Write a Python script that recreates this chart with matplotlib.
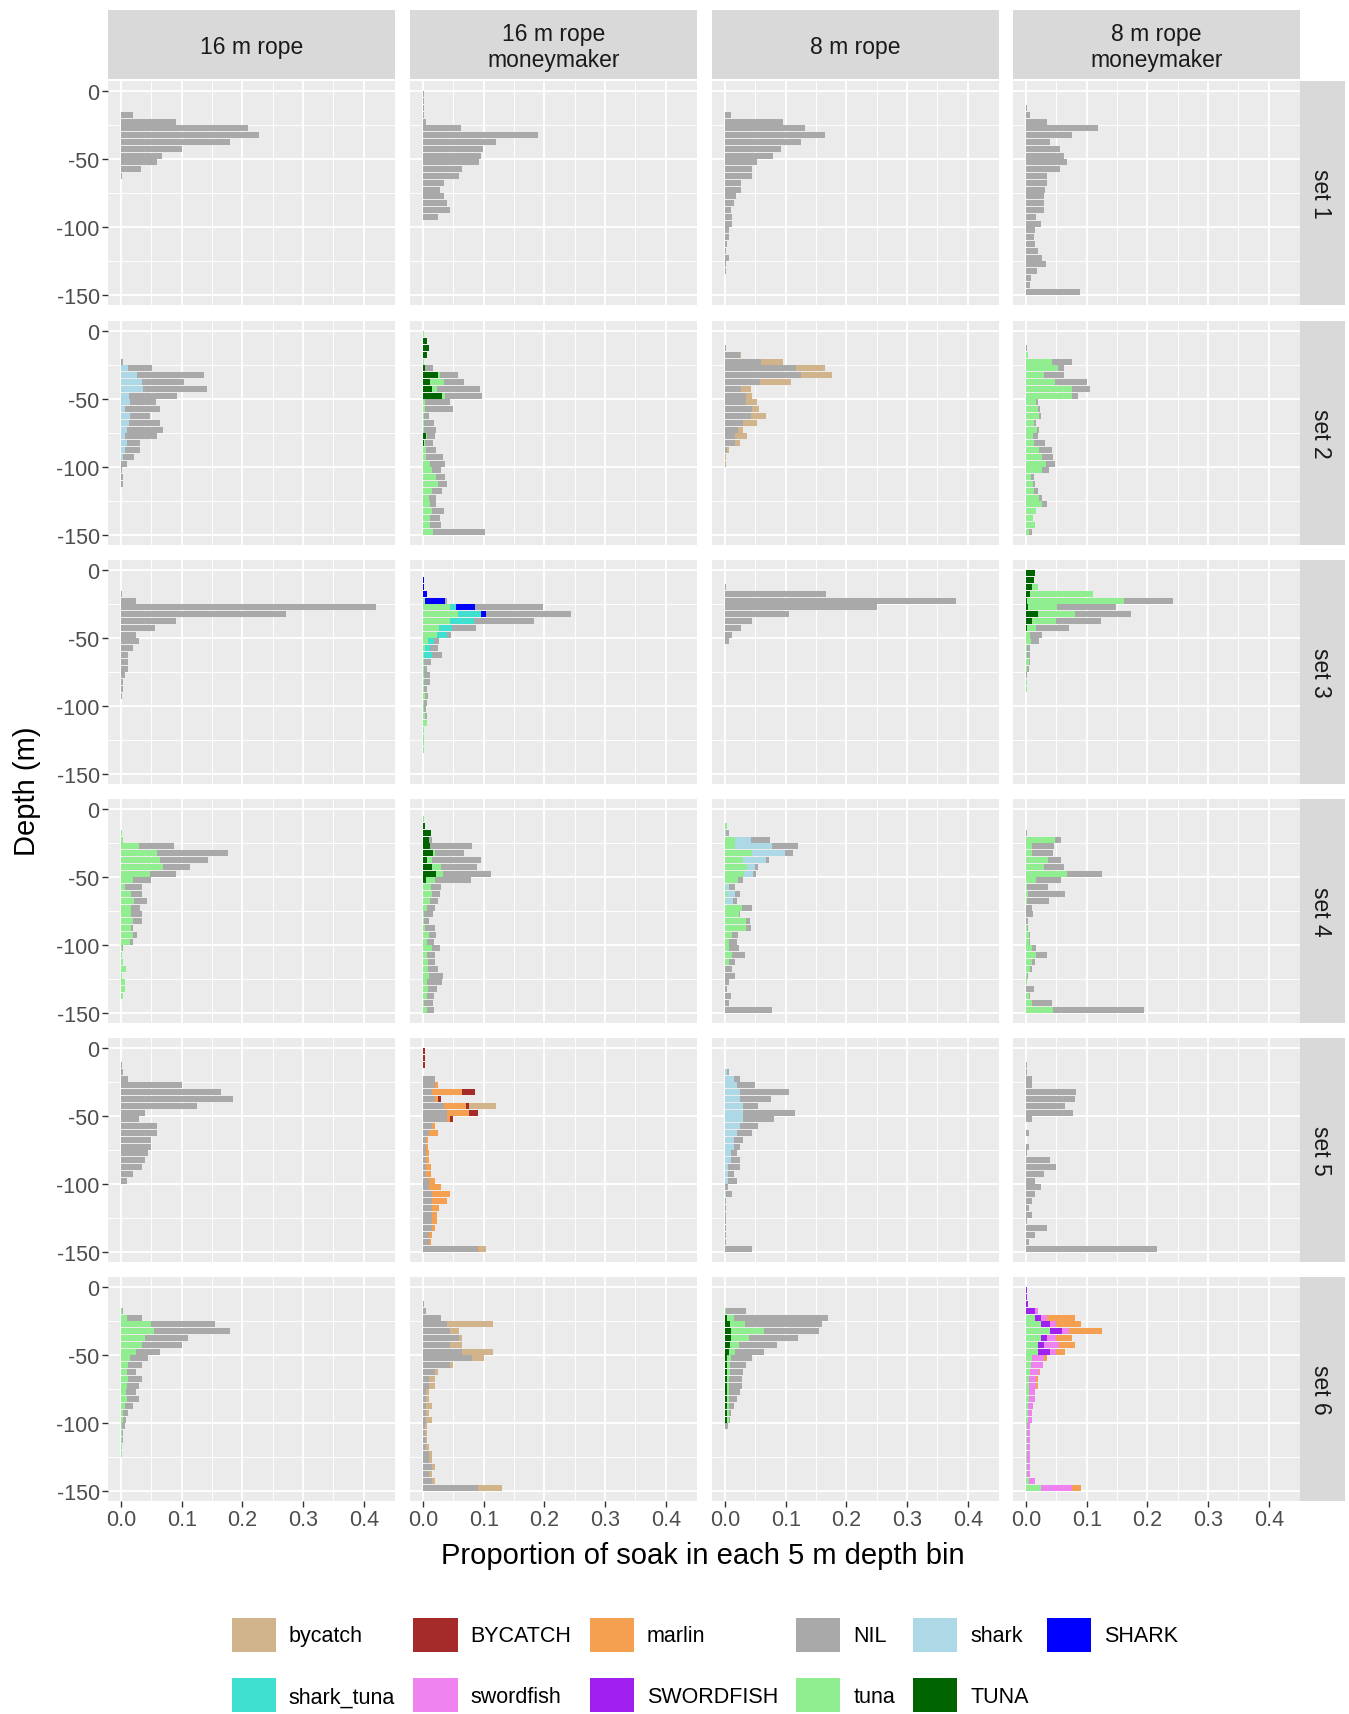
import matplotlib
matplotlib.use('Agg')
import matplotlib.pyplot as plt
from matplotlib.patches import Patch
import numpy as np

plt.rcParams['font.family'] = ['Liberation Sans', 'DejaVu Sans']
plt.rcParams['axes.unicode_minus'] = False

# ---------------- categories / labels ----------------
categories = ['bycatch', 'BYCATCH', 'marlin', 'NIL', 'shark', 'SHARK',
              'shark_tuna', 'swordfish', 'SWORDFISH', 'tuna', 'TUNA']
cat_colors = ['#D2B48C', '#A52A2A', '#F4A050', '#A9A9A9', '#ADD8E6', '#0000FF',
              '#40E0D0', '#EE82EE', '#A020F0', '#90EE90', '#006400']
ropes = ['16 m rope', '16 m rope\nmoneymaker', '8 m rope', '8 m rope\nmoneymaker']
sets = ['set 1', 'set 2', 'set 3', 'set 4', 'set 5', 'set 6']
depth_bins = [-2.5, -7.5, -12.5, -17.5, -22.5, -27.5, -32.5, -37.5, -42.5, -47.5,
              -52.5, -57.5, -62.5, -67.5, -72.5, -77.5, -82.5, -87.5, -92.5, -97.5,
              -102.5, -107.5, -112.5, -117.5, -122.5, -127.5, -132.5, -137.5, -142.5, -147.5]
x_ticks = [0.0, 0.1, 0.2, 0.3, 0.4]
y_ticks = [0, -50, -100, -150]

# ---------------- data: proportion per 5 m bin (30 bins) ----------------
# set 1
s1_c1_NIL = [0, 0, 0, .020, .091, .209, .227, .180, .101, .067, .060, .033, .001, 0, 0,
             0, 0, 0, 0, 0, 0, 0, 0, 0, 0, 0, 0, 0, 0, 0]
s1_c2_NIL = [.001, .001, .001, .001, .005, .063, .189, .121, .099, .095, .092, .064, .059, .035, .028,
             .034, .040, .045, .025, 0, 0, 0, 0, 0, 0, 0, 0, 0, 0, 0]
s1_c3_NIL = [0, 0, 0, .010, .096, .132, .165, .125, .092, .079, .053, .045, .045, .027, .026,
             .018, .014, .010, .012, .012, .006, .006, .004, .002, .007, .002, .002, 0, 0, 0]
s1_c4_NIL = [0, 0, .001, .006, .034, .118, .075, .039, .056, .062, .068, .056, .035, .035, .032,
             .029, .030, .029, .017, .024, .015, .013, .015, .019, .027, .033, .018, .008, .006, .089]
# set 2
s2_c1_shark = [0, 0, 0, 0, 0, .012, .026, .034, .036, .013, .015, .007, .014, .013, .009,
               .007, .010, .007, .003, 0, 0, 0, 0, 0, 0, 0, 0, 0, 0, 0]
s2_c1_NIL = [0, 0, 0, 0, .003, .039, .110, .069, .106, .080, .043, .057, .034, .051, .060,
             .052, .022, .024, .019, .009, .001, .004, .003, 0, 0, 0, 0, 0, 0, 0]
s2_c2_TUNA = [0, .007, .009, .007, 0, .003, .025, .011, .014, .031, 0, 0, 0, 0, 0,
              .005, .002, 0, 0, 0, 0, 0, 0, 0, 0, 0, 0, 0, 0, 0]
s2_c2_tuna = [.002, 0, 0, 0, .002, 0, .003, .024, .009, .005, .003, .003, .002, .002, .002,
              .002, .001, .005, .005, .011, .015, .022, .024, .014, .009, .011, .014, .012, .011, .017]
s2_c2_NIL = [0, 0, 0, 0, 0, .013, .029, .033, .071, .061, .042, .046, .008, .016, .019,
             .012, .013, .017, .028, .025, .015, .015, .015, .018, .012, .011, .020, .016, .019, .085]
s2_c3_NIL = [0, 0, .002, .025, .060, .117, .126, .058, .027, .035, .035, .044, .042, .030, .022,
             .016, .016, .004, 0, 0, 0, 0, 0, 0, 0, 0, 0, 0, 0, 0]
s2_c3_bycatch = [0, 0, 0, .001, .035, .048, .050, .051, .015, .009, .017, .012, .025, .022, .008,
                 .020, .009, .003, .002, .002, 0, 0, 0, 0, 0, 0, 0, 0, 0, 0]
s2_c4_tuna = [0, 0, 0, .004, .042, .053, .029, .047, .076, .076, .016, .019, .022, .013, .018,
              .012, .013, .022, .027, .033, .026, .008, .011, .013, .022, .027, .017, .012, .014, .005]
s2_c4_NIL = [0, 0, .001, 0, .033, .009, .033, .053, .030, .009, .004, .004, .002, .004, .004,
             .007, .018, .020, .018, .014, .012, .005, .004, .007, .005, .007, 0, 0, 0, .004]
# set 3
s3_c1_NIL = [0, 0, 0, .001, .024, .420, .272, .090, .056, .024, .029, .019, .012, .011, .012,
             .006, .004, .004, .001, 0, 0, 0, 0, 0, 0, 0, 0, 0, 0, 0]
s3_c2_SHARK = [0, .002, .002, .006, .033, .031, .008, 0, 0, 0, 0, 0, 0, 0, 0,
               0, 0, 0, 0, 0, 0, 0, 0, 0, 0, 0, 0, 0, 0, 0]
s3_c2_tuna = [0, 0, 0, 0, .003, .044, .058, .044, .026, .023, .008, .004, .002, .002, .001,
              .001, .002, .002, .003, .002, .002, .004, .006, .002, .002, .002, .002, 0, 0, 0]
s3_c2_shark_tuna = [0, 0, 0, 0, 0, .010, .038, .040, .022, .016, .010, .008, .013, 0, 0,
                    0, 0, 0, 0, 0, 0, 0, 0, 0, 0, 0, 0, 0, 0, 0]
s3_c2_NIL = [0, 0, 0, 0, .004, .112, .140, .099, .040, .007, .009, .013, .017, .011, .006,
             .011, .009, .005, .005, .005, .003, .002, 0, 0, 0, 0, 0, 0, 0, 0]
s3_c3_NIL = [0, 0, .002, .166, .381, .250, .105, .045, .027, .012, .006, 0, 0, 0, 0,
             0, 0, 0, 0, 0, 0, 0, 0, 0, 0, 0, 0, 0, 0, 0]
s3_c4_TUNA = [.015, .013, .009, .006, .002, .004, .020, .009, .001, 0, 0, 0, 0, 0, 0,
              0, 0, 0, 0, 0, 0, 0, 0, 0, 0, 0, 0, 0, 0, 0]
s3_c4_tuna = [0, 0, .010, .105, .159, .047, .060, .041, .016, .007, .008, .002, .002, .005, .001,
              0, .002, .001, 0, 0, 0, 0, 0, 0, 0, 0, 0, 0, 0, 0]
s3_c4_NIL = [0, 0, 0, 0, .081, .097, .093, .073, .053, .019, .013, .005, .004, .002, .004,
             .002, 0, 0, 0, 0, 0, 0, 0, 0, 0, 0, 0, 0, 0, 0]
# set 4
s4_c1_tuna = [0, 0, 0, .001, .004, .029, .060, .065, .069, .048, .019, .007, .016, .021, .017,
              .017, .020, .016, .020, .014, .001, .002, .003, .008, .002, .006, .007, .004, 0, 0]
s4_c1_NIL = [0, 0, 0, 0, 0, .058, .116, .078, .044, .043, .030, .028, .018, .021, .015,
             .018, .015, .004, .006, .006, .003, 0, 0, 0, 0, 0, 0, 0, 0, 0]
s4_c2_TUNA = [0, 0, .003, .013, .010, .011, .017, .007, .015, .021, .005, 0, 0, 0, 0,
              0, 0, 0, 0, 0, 0, 0, 0, 0, 0, 0, 0, 0, 0, 0]
s4_c2_tuna = [0, .001, 0, 0, 0, 0, .002, .007, .014, .012, .015, .013, .015, .011, .007,
              .002, .001, .004, .010, .007, .015, .006, .008, .008, .010, .006, .008, .007, .002, .006]
s4_c2_NIL = [0, 0, 0, 0, .004, .070, .048, .081, .060, .079, .059, .016, .013, .014, .012,
             .015, .009, .015, .012, .011, .013, .013, .012, .017, .023, .025, .015, .011, .015, .012]
s4_c3_tuna = [0, 0, .003, 0, .017, .016, .045, .030, .037, .032, .021, .002, .003, .002, .028,
              .023, .034, .034, .012, .007, .006, .012, .007, 0, 0, 0, 0, 0, 0, 0]
s4_c3_shark = [0, 0, 0, .002, .026, .062, .054, .038, .013, .014, 0, .005, .013, .011, 0,
               0, 0, 0, 0, 0, 0, 0, 0, 0, 0, 0, 0, 0, 0, 0]
s4_c3_NIL = [0, 0, 0, .004, .031, .042, .013, .004, .004, .005, .008, .010, .009, .006, .016,
             .002, .007, .009, .010, .013, .017, .021, .010, .011, .017, .007, .003, .009, .007, .077]
s4_c4_tuna = [0, 0, 0, 0, .048, .009, .009, .036, .029, .068, .017, .002, .004, .002, 0,
              0, 0, .001, .005, .005, .009, .017, .010, .006, .002, .002, 0, .005, .010, .045]
s4_c4_NIL = [0, 0, 0, .002, .010, .037, .036, .021, .034, .058, .040, .034, .061, .036, .010,
             .012, .004, .002, .001, .001, .008, .018, .004, .004, .001, 0, .013, .002, .032, .150]
# set 5
s5_c1_NIL = [0, 0, .002, .004, .012, .100, .165, .185, .125, .040, .030, .060, .060, .050, .050,
             .045, .040, .035, .020, .010, 0, 0, 0, 0, 0, 0, 0, 0, 0, 0]
s5_c2_BYCATCH = [.003, .003, .003, 0, 0, 0, .020, .005, .005, .015, .005, 0, 0, 0, 0,
                 0, 0, 0, 0, 0, 0, 0, 0, 0, 0, 0, 0, 0, 0, 0]
s5_c2_marlin = [0, 0, 0, 0, 0, .005, .050, .005, .035, .035, .005, .005, .015, .003, .003,
                .005, .005, .008, .008, .010, .020, .030, .025, .012, .008, .008, .005, .005, .003, .003]
s5_c2_bycatch = [0, 0, 0, 0, 0, 0, 0, 0, .045, 0, 0, 0, 0, 0, 0,
                 0, 0, 0, 0, 0, 0, 0, 0, 0, 0, 0, 0, 0, 0, .010]
s5_c2_NIL = [0, 0, 0, 0, .020, .020, .015, .020, .035, .040, .040, .015, .010, .005, .005,
             .005, .005, .005, .005, .010, .010, .015, .015, .015, .015, .015, .015, .010, .010, .090]
s5_c3_shark = [0, 0, 0, .004, .015, .020, .025, .025, .030, .030, .030, .025, .020, .015, .015,
               .010, .010, .005, .005, .005, 0, .002, 0, 0, 0, 0, 0, 0, 0, 0]
s5_c3_NIL = [0, 0, 0, .002, .010, .030, .080, .050, .025, .085, .050, .030, .025, .015, .010,
             .010, .015, .020, .010, .015, .005, .010, .002, .002, .002, .002, .002, .002, .002, .045]
s5_c4_NIL = [0, 0, .002, .002, .010, .010, .083, .080, .065, .078, .010, 0, .005, 0, .005,
             .002, .040, .050, .030, .015, .025, .015, .010, .005, .010, .002, .035, .015, .005, .215]
# set 6
s6_c1_tuna = [0, 0, 0, .002, .010, .050, .055, .040, .035, .025, .015, .012, .010, .012, .010,
              .008, .010, .006, .004, .003, .002, .002, .002, .001, .001, 0, 0, 0, 0, 0]
s6_c1_NIL = [0, 0, 0, .002, .025, .105, .125, .070, .065, .040, .030, .023, .015, .023, .020,
             .017, .020, .014, .008, .005, .004, .002, .001, .001, .001, 0, 0, 0, 0, 0]
s6_c2_NIL = [0, 0, .001, .005, .030, .040, .045, .060, .045, .065, .080, .045, .020, .010, .010,
             .005, .005, .005, .005, .005, .003, .003, .005, .005, .010, .010, .015, .010, .015, .090]
s6_c2_bycatch = [0, 0, 0, 0, 0, .075, .015, .005, .020, .050, .020, .005, .005, .010, .010,
                 .005, .005, .010, .005, .010, .003, .003, .002, .005, .005, .005, .005, .005, .005, .040]
s6_c3_TUNA = [0, 0, 0, 0, .004, .008, .010, .010, .008, .006, .004, .004, .004, .004, .004,
              .004, .004, .004, .003, .003, 0, 0, 0, 0, 0, 0, 0, 0, 0, 0]
s6_c3_tuna = [0, 0, 0, .002, .010, .025, .055, .030, .015, .010, .005, .004, .004, .003, .003,
              .003, .003, .003, .003, .003, 0, 0, 0, 0, 0, 0, 0, 0, 0, 0]
s6_c3_NIL = [0, 0, 0, .033, .156, .127, .090, .080, .062, .049, .036, .027, .022, .021, .021,
             .018, .013, .008, .004, .002, .005, 0, 0, 0, 0, 0, 0, 0, 0, 0]
s6_c4_tuna = [0, 0, 0, 0, .015, .025, .040, .025, .020, .020, .010, .008, .006, .005, .005,
              .005, .005, .004, .003, .003, .002, .002, .002, .002, .002, .002, .002, .002, .005, .025]
s6_c4_SWORDFISH = [.002, .002, .003, .015, .010, .015, .020, .010, .010, .020, 0, 0, 0, 0, 0,
                   0, 0, 0, 0, 0, 0, 0, 0, 0, 0, 0, 0, 0, 0, 0]
s6_c4_swordfish = [0, 0, 0, .005, .010, .010, .010, .015, .025, .010, .020, .020, .015, .012, .012,
                   .010, .010, .008, .006, .006, .005, .005, .005, .005, .005, .004, .004, .004, .010, .050]
s6_c4_marlin = [0, 0, 0, 0, .045, .040, .055, .025, .025, .015, .005, 0, .002, .002, .002,
                0, 0, 0, 0, 0, 0, 0, 0, 0, 0, 0, 0, 0, 0, .015]

panel_data = {
    (0, 0): {'NIL': s1_c1_NIL}, (0, 1): {'NIL': s1_c2_NIL},
    (0, 2): {'NIL': s1_c3_NIL}, (0, 3): {'NIL': s1_c4_NIL},
    (1, 0): {'shark': s2_c1_shark, 'NIL': s2_c1_NIL},
    (1, 1): {'TUNA': s2_c2_TUNA, 'tuna': s2_c2_tuna, 'NIL': s2_c2_NIL},
    (1, 2): {'NIL': s2_c3_NIL, 'bycatch': s2_c3_bycatch},
    (1, 3): {'tuna': s2_c4_tuna, 'NIL': s2_c4_NIL},
    (2, 0): {'NIL': s3_c1_NIL},
    (2, 1): {'SHARK': s3_c2_SHARK, 'tuna': s3_c2_tuna, 'shark_tuna': s3_c2_shark_tuna, 'NIL': s3_c2_NIL},
    (2, 2): {'NIL': s3_c3_NIL},
    (2, 3): {'TUNA': s3_c4_TUNA, 'tuna': s3_c4_tuna, 'NIL': s3_c4_NIL},
    (3, 0): {'tuna': s4_c1_tuna, 'NIL': s4_c1_NIL},
    (3, 1): {'TUNA': s4_c2_TUNA, 'tuna': s4_c2_tuna, 'NIL': s4_c2_NIL},
    (3, 2): {'tuna': s4_c3_tuna, 'shark': s4_c3_shark, 'NIL': s4_c3_NIL},
    (3, 3): {'tuna': s4_c4_tuna, 'NIL': s4_c4_NIL},
    (4, 0): {'NIL': s5_c1_NIL},
    (4, 1): {'BYCATCH': s5_c2_BYCATCH, 'marlin': s5_c2_marlin, 'bycatch': s5_c2_bycatch, 'NIL': s5_c2_NIL},
    (4, 2): {'shark': s5_c3_shark, 'NIL': s5_c3_NIL},
    (4, 3): {'NIL': s5_c4_NIL},
    (5, 0): {'tuna': s6_c1_tuna, 'NIL': s6_c1_NIL},
    (5, 1): {'NIL': s6_c2_NIL, 'bycatch': s6_c2_bycatch},
    (5, 2): {'TUNA': s6_c3_TUNA, 'tuna': s6_c3_tuna, 'NIL': s6_c3_NIL},
    (5, 3): {'tuna': s6_c4_tuna, 'SWORDFISH': s6_c4_SWORDFISH, 'swordfish': s6_c4_swordfish,
             'marlin': s6_c4_marlin},
}

color_of = dict(zip(categories, cat_colors))
# ggplot stacking: last factor level sits next to zero
stack_order = categories[::-1]

# ---------------- layout (pixels) ----------------
W, H = 1349, 1715
fig = plt.figure(figsize=(W / 100, H / 100), dpi=100)
col_left = [108, 410, 712, 1013]
panel_w = 287
row_top = [82, 322, 561, 800, 1039, 1278]
panel_h = 224
strip_top, strip_h = 11, 69
rstrip_left, rstrip_w = 1300, 45

def fx(px):
    return px / W

def fy(py):
    return 1 - py / H

small = 15.5
strip_fs = 16.5
tick_col = '#4D4D4D'

for r in range(6):
    for c in range(4):
        ax = fig.add_axes([fx(col_left[c]), fy(row_top[r] + panel_h), fx(panel_w), panel_h / H])
        ax.set_facecolor('#EBEBEB')
        left = np.zeros(len(depth_bins))
        d = panel_data[(r, c)]
        for cat in stack_order:
            if cat in d:
                vals = np.array(d[cat], dtype=float)
                ax.barh(depth_bins, vals, left=left, height=4.4, color=color_of[cat],
                        linewidth=0, zorder=3)
                left = left + vals
        ax.set_xlim(-0.0215, 0.4515)
        ax.set_ylim(-157.3, 7.3)
        ax.set_xticks(x_ticks)
        ax.set_xticks([0.05, 0.15, 0.25, 0.35], minor=True)
        ax.set_yticks(y_ticks)
        ax.set_yticks([-25, -75, -125], minor=True)
        ax.grid(which='major', color='white', linewidth=1.3, zorder=1)
        ax.grid(which='minor', color='white', linewidth=0.65, zorder=1)
        ax.set_axisbelow(True)
        for s in ax.spines.values():
            s.set_visible(False)
        ax.tick_params(which='minor', length=0)
        ax.tick_params(which='major', length=4, width=1, color='#333333',
                       labelsize=small, labelcolor=tick_col, pad=2)
        if c == 0:
            ax.set_yticklabels([str(v) for v in y_ticks])
        else:
            ax.tick_params(axis='y', which='major', length=0, labelleft=False)
        if r == 5:
            ax.set_xticklabels(['%.1f' % v for v in x_ticks])
        else:
            ax.tick_params(axis='x', which='major', length=0, labelbottom=False)
        if c == 3:
            sax = fig.add_axes([fx(rstrip_left), fy(row_top[r] + panel_h), fx(rstrip_w), panel_h / H])
            sax.set_facecolor('#D9D9D9')
            sax.set_xticks([]); sax.set_yticks([])
            for s in sax.spines.values():
                s.set_visible(False)
            sax.text(0.45, 0.5, sets[r], rotation=-90, ha='center', va='center',
                     fontsize=strip_fs, color='#1A1A1A', transform=sax.transAxes)

for c in range(4):
    tax = fig.add_axes([fx(col_left[c]), fy(strip_top + strip_h), fx(panel_w), strip_h / H])
    tax.set_facecolor('#D9D9D9')
    tax.set_xticks([]); tax.set_yticks([])
    for s in tax.spines.values():
        s.set_visible(False)
    tax.text(0.5, 0.47, ropes[c], ha='center', va='center', fontsize=strip_fs,
             color='#1A1A1A', linespacing=1.15, transform=tax.transAxes)

fig.text(fx(703), fy(1556), 'Proportion of soak in each 5 m depth bin', ha='center',
         va='center', fontsize=21, color='black')
fig.text(fx(27), fy(791), 'Depth (m)', ha='center', va='center', rotation=90,
         fontsize=21, color='black')

# legend: arrange so that column-major filling reproduces ggplot's row-major order
order_idx = [0, 6, 1, 7, 2, 8, 3, 9, 4, 10, 5]
handles = [Patch(facecolor=cat_colors[i], edgecolor='none') for i in order_idx]
labels = [categories[i] for i in order_idx]
fig.legend(handles, labels, ncol=6, loc='center', bbox_to_anchor=(fx(705), fy(1666)),
           frameon=False, fontsize=small, handlelength=2.05, handleheight=2.05,
           handletextpad=0.6, columnspacing=0.85, labelspacing=1.25, borderpad=0)

fig.savefig('out.png', dpi=100)
